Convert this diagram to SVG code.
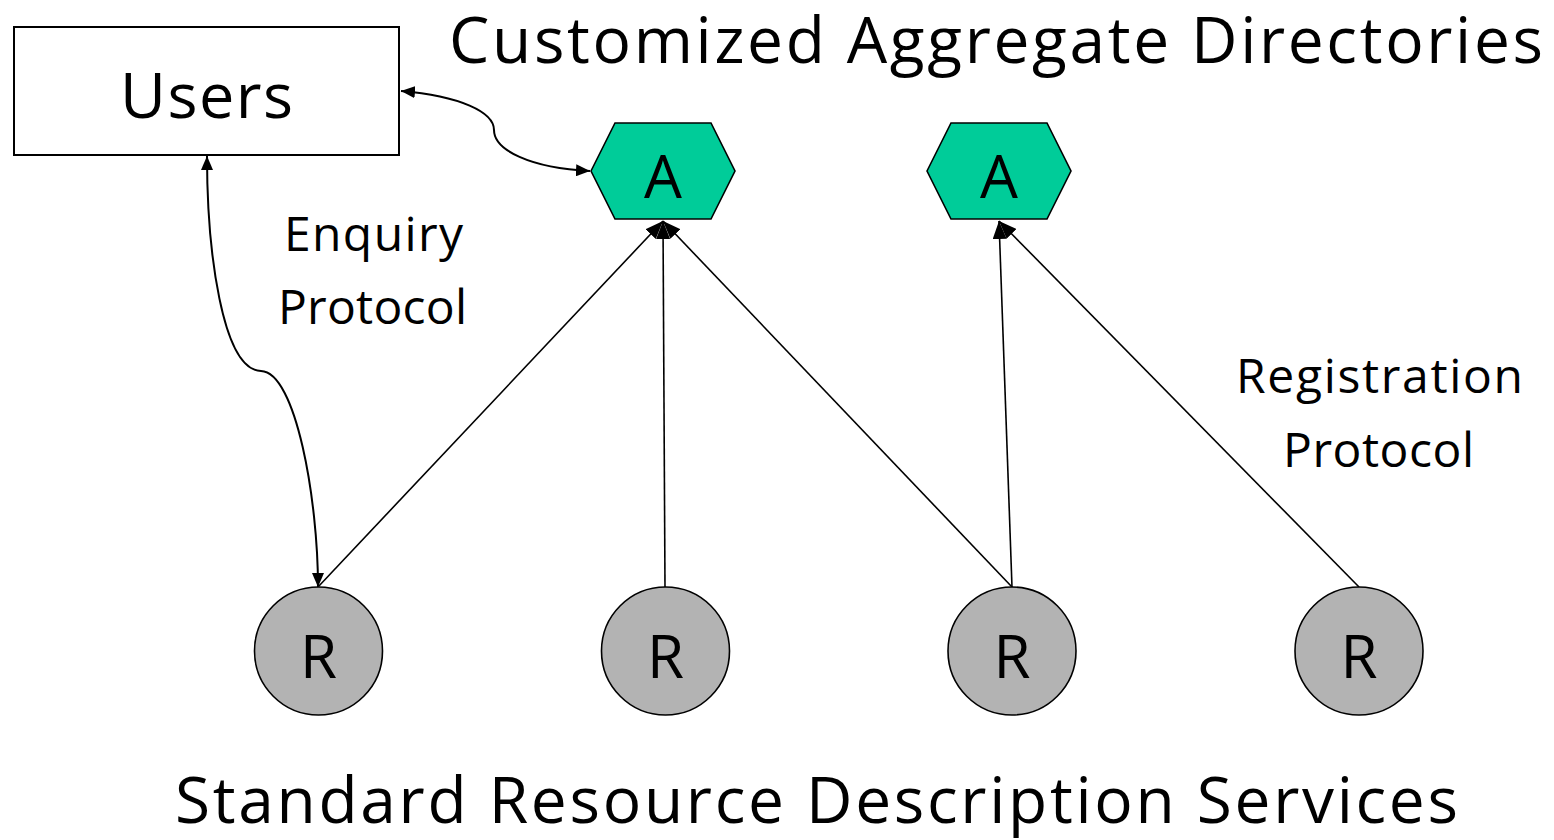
<svg xmlns="http://www.w3.org/2000/svg" width="1554" height="840" viewBox="0 0 1554 840">
  <style>
    .lbl { font-family: "Open Sans", "DejaVu Sans", sans-serif; fill: #000; }
    .hex { fill: #00CC99; stroke: #000; stroke-width: 1.6; }
    .res { fill: #B3B3B3; stroke: #000; stroke-width: 1.6; }
    .box { fill: #fff; stroke: #000; stroke-width: 2; }
    .curve { fill: none; stroke: #000; stroke-width: 2; }
    .reg { fill: none; stroke: #000; stroke-width: 1.6; }
  </style>
  <defs>
    <marker id="head" viewBox="0 0 14 12" refX="14" refY="6" markerWidth="14" markerHeight="12" markerUnits="userSpaceOnUse" orient="auto-start-reverse">
      <path d="M0,0 L14,6 L0,12 Z" fill="#000"/>
    </marker>
    <marker id="regHead" viewBox="0 0 18 14" refX="18" refY="7" markerWidth="18" markerHeight="14" markerUnits="userSpaceOnUse" orient="auto">
      <path d="M0,0 L18,7 L0,14 Z" fill="#000"/>
    </marker>
  </defs>

  <rect width="1554" height="840" fill="#fff"/>

  <!-- titles -->
  <text class="lbl" x="449" y="63" font-size="64" textLength="1094">Customized Aggregate Directories</text>
  <text class="lbl" x="175" y="823" font-size="64" textLength="1283">Standard Resource Description Services</text>

  <!-- protocol labels -->
  <text class="lbl" x="284" y="251" font-size="48" textLength="179">Enquiry</text>
  <text class="lbl" x="278" y="324" font-size="48" textLength="189">Protocol</text>
  <text class="lbl" x="1236" y="393" font-size="48" textLength="287">Registration</text>
  <text class="lbl" x="1283" y="467" font-size="48" textLength="191">Protocol</text>

  <!-- connectors -->
  <g id="connectors">
    <path class="curve" d="M401,91 C460,96 494,112 494,130 C494,150 530,168 590,171" marker-start="url(#head)" marker-end="url(#head)"/>
    <path class="curve" d="M207,156 C207,250 222,370 261,371 C296,372 318,500 318,587" marker-start="url(#head)" marker-end="url(#head)"/>
    <line class="reg" x1="318" y1="587" x2="663" y2="221" marker-end="url(#regHead)"/>
    <line class="reg" x1="665" y1="587" x2="663" y2="221" marker-end="url(#regHead)"/>
    <line class="reg" x1="1012" y1="587" x2="663" y2="221" marker-end="url(#regHead)"/>
    <line class="reg" x1="1012" y1="587" x2="999" y2="221" marker-end="url(#regHead)"/>
    <line class="reg" x1="1359" y1="587" x2="999" y2="221" marker-end="url(#regHead)"/>
  </g>

  <!-- users -->
  <g id="users">
    <rect class="box" x="14" y="27" width="385" height="128"/>
    <text class="lbl" x="120" y="118" font-size="63" textLength="173">Users</text>
  </g>

  <!-- aggregate directories -->
  <g id="aggregate-1">
    <polygon class="hex" points="591,171 615,123 711,123 735,171 711,219 615,219"/>
    <text class="lbl" x="663" y="198" font-size="60" text-anchor="middle">A</text>
  </g>
  <g id="aggregate-2">
    <polygon class="hex" points="927,171 951,123 1047,123 1071,171 1047,219 951,219"/>
    <text class="lbl" x="999" y="198" font-size="60" text-anchor="middle">A</text>
  </g>

  <!-- resource description services -->
  <g id="resource-1">
    <circle class="res" cx="318.5" cy="651" r="64"/>
    <text class="lbl" x="318.5" y="678" font-size="60" text-anchor="middle">R</text>
  </g>
  <g id="resource-2">
    <circle class="res" cx="665.5" cy="651" r="64"/>
    <text class="lbl" x="665.5" y="678" font-size="60" text-anchor="middle">R</text>
  </g>
  <g id="resource-3">
    <circle class="res" cx="1012" cy="651" r="64"/>
    <text class="lbl" x="1012" y="678" font-size="60" text-anchor="middle">R</text>
  </g>
  <g id="resource-4">
    <circle class="res" cx="1359" cy="651" r="64"/>
    <text class="lbl" x="1359" y="678" font-size="60" text-anchor="middle">R</text>
  </g>
</svg>
